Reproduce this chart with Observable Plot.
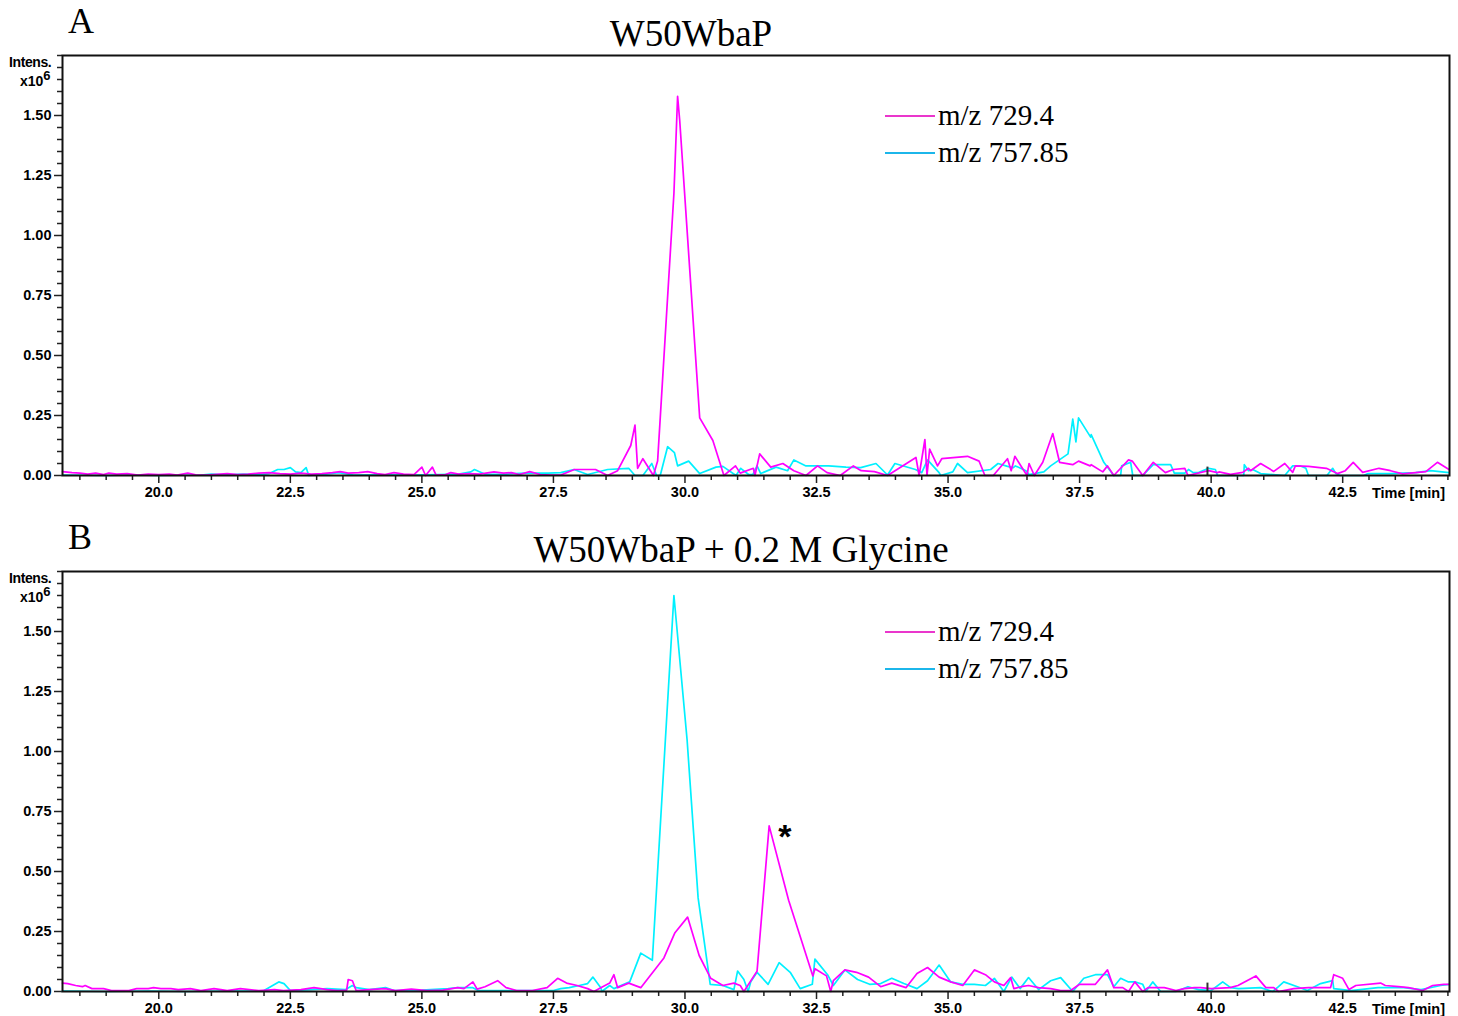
<!DOCTYPE html>
<html>
<head>
<meta charset="utf-8">
<script src="https://cdn.jsdelivr.net/npm/d3@7"></script>
<script src="https://cdn.jsdelivr.net/npm/@observablehq/plot@0.6"></script>
<style>
  body { margin: 0; background: #fff; }
  #fig { position: relative; width: 1458px; height: 1016px; overflow: hidden; background: #fff; }
  .panel { position: absolute; left: 0; width: 1458px; }
  .serif { position: absolute; font-family: "Liberation Serif", "Times New Roman", serif; color: #000; white-space: nowrap; line-height: 1; }
  .sans { position: absolute; font-family: "Liberation Sans", Arial, sans-serif; font-weight: bold; color: #000; white-space: nowrap; line-height: 1; }
  .legline { position: absolute; height: 0; border-top: 2px solid; width: 50px; }
  svg text { font-weight: bold; }
</style>
</head>
<body>
<div id="fig"></div>
<script>
// ---------- data (time [min], intensity x10^6) ----------
const panelTitles = ["W50WbaP", "W50WbaP + 0.2 M Glycine"];
const panelLetters = ["A", "B"];
const seriesNames = ["m/z 729.4", "m/z 757.85"];
const xLabel = "Time [min]";

const a729 = [
 [18.17,0.016],[18.35,0.012],[18.5,0.01],[18.65,0.006],[18.8,0.01],[18.95,0.004],[19.05,0.01],[19.2,0.006],
 [19.4,0.008],[19.6,0.002],[19.8,0.006],[20.0,0.004],[20.2,0.006],[20.35,0.002],[20.55,0.01],[20.7,0.003],
 [20.9,0.002],[21.1,0.005],[21.3,0.008],[21.5,0.004],[21.7,0.006],[21.9,0.01],[22.1,0.012],[22.3,0.008],
 [22.5,0.006],[22.7,0.01],[22.9,0.006],[23.1,0.008],[23.3,0.012],[23.45,0.016],[23.6,0.01],[23.8,0.012],
 [23.97,0.016],[24.15,0.008],[24.3,0.004],[24.47,0.012],[24.65,0.006],[24.85,0.004],[25.0,0.035],[25.07,0.0],
 [25.2,0.035],[25.27,0.002],[25.45,0.004],[25.55,0.012],[25.7,0.006],[25.9,0.008],[26.1,0.006],[26.37,0.015],
 [26.55,0.01],[26.7,0.012],[26.85,0.004],[27.05,0.016],[27.25,0.004],[27.45,0.002],[27.64,0.002],[27.9,0.025],
 [28.3,0.025],[28.53,0.0],[28.72,0.02],[28.97,0.125],[29.05,0.21],[29.1,0.03],[29.2,0.07],[29.4,0.0],
 [29.48,0.06],[29.79,1.175],[29.86,1.58],[29.9,1.48],[30.28,0.24],[30.53,0.146],[30.74,0.0],[30.96,0.04],
 [31.05,0.01],[31.3,0.03],[31.33,0.0],[31.42,0.09],[31.63,0.035],[31.86,0.05],[32.07,0.02],[32.3,0.0],
 [32.52,0.04],[32.7,0.012],[32.95,0.0],[33.2,0.04],[33.35,0.02],[33.6,0.016],[33.85,0.0],[34.39,0.075],
 [34.45,0.0],[34.56,0.15],[34.6,0.0],[34.65,0.11],[34.8,0.04],[34.88,0.07],[35.37,0.08],[35.59,0.06],
 [35.7,0.0],[35.86,0.0],[36.13,0.07],[36.2,0.02],[36.27,0.08],[36.5,0.0],[36.54,0.05],[36.64,0.0],
 [36.8,0.055],[36.99,0.175],[37.12,0.055],[37.37,0.045],[37.48,0.06],[37.7,0.04],[37.72,0.045],[37.94,0.015],
 [38.03,0.04],[38.15,0.0],[38.43,0.065],[38.5,0.06],[38.7,0.0],[38.9,0.055],[39.13,0.012],[39.28,0.025],
 [39.5,0.03],[39.56,0.0],[39.95,0.02],[40.12,0.012],[40.15,0.015],[40.37,0.005],[40.6,0.013],[40.71,0.03],
 [40.75,0.02],[40.94,0.05],[41.19,0.017],[41.4,0.05],[41.55,0.013],[41.6,0.04],[41.85,0.038],[42.19,0.03],
 [42.4,0.008],[42.55,0.02],[42.7,0.055],[42.88,0.013],[43.19,0.03],[43.41,0.02],[43.64,0.007],[44.08,0.016],
 [44.3,0.055],[44.52,0.025]
];

const a757 = [
 [18.17,0.002],[19.0,0.0],[19.5,0.002],[20.0,0.0],[20.8,0.002],[21.0,0.006],[21.3,0.003],[21.6,0.006],
 [21.9,0.004],[22.1,0.008],[22.26,0.025],[22.38,0.025],[22.5,0.033],[22.6,0.015],[22.7,0.012],[22.8,0.033],
 [22.85,0.0],[23.1,0.004],[23.42,0.012],[23.7,0.002],[24.2,0.003],[24.8,0.002],[25.3,0.004],[25.7,0.006],
 [25.93,0.015],[26.0,0.025],[26.2,0.005],[26.6,0.006],[27.0,0.01],[27.4,0.01],[27.64,0.012],[27.89,0.025],
 [28.15,0.004],[28.53,0.025],[28.93,0.03],[29.05,0.0],[29.2,0.0],[29.37,0.05],[29.46,0.0],[29.53,0.0],
 [29.67,0.12],[29.8,0.095],[29.86,0.04],[30.07,0.06],[30.28,0.008],[30.59,0.035],[30.72,0.038],[30.97,0.0],
 [31.06,0.03],[31.21,0.004],[31.29,0.004],[31.37,0.04],[31.44,0.008],[31.73,0.035],[31.95,0.02],[32.07,0.065],
 [32.3,0.04],[32.73,0.04],[33.06,0.035],[33.34,0.033],[33.63,0.05],[33.85,0.002],[33.99,0.05],[34.38,0.025],
 [34.5,0.012],[34.61,0.065],[34.83,0.012],[34.86,0.0],[35.09,0.015],[35.18,0.05],[35.37,0.012],[35.81,0.025],
 [35.95,0.05],[36.13,0.038],[36.24,0.033],[36.28,0.04],[36.48,0.02],[36.54,0.004],[36.82,0.015],[36.95,0.04],
 [37.28,0.09],[37.37,0.235],[37.43,0.14],[37.48,0.24],[37.71,0.16],[37.72,0.17],[37.96,0.055],[38.15,0.0],
 [38.28,0.0],[38.3,0.04],[38.47,0.055],[38.51,0.0],[38.7,0.0],[38.9,0.045],[39.23,0.045],[39.3,0.01],
 [39.5,0.01],[39.57,0.025],[39.66,0.012],[39.76,0.012],[39.95,0.03],[40.08,0.025],[40.12,0.0],[40.62,0.0],
 [40.63,0.045],[40.71,0.02],[40.79,0.025],[40.94,0.008],[41.4,0.0],[41.55,0.04],[41.7,0.04],[41.8,0.03],
 [41.85,0.0],[42.2,0.0],[42.31,0.03],[42.37,0.008],[42.45,0.0],[42.9,0.0],[42.98,0.008],[43.41,0.008],
 [43.89,0.012],[44.17,0.02],[44.52,0.012]
];

const b729 = [
 [18.17,0.035],[18.27,0.033],[18.42,0.025],[18.55,0.02],[18.6,0.025],[18.73,0.012],[18.95,0.012],[19.1,0.004],
 [19.43,0.004],[19.58,0.012],[19.8,0.012],[19.9,0.016],[20.04,0.012],[20.23,0.012],[20.37,0.008],[20.6,0.012],
 [20.8,0.004],[21.05,0.012],[21.18,0.008],[21.3,0.004],[21.55,0.012],[21.9,0.004],[22.2,0.008],[22.37,0.004],
 [22.7,0.008],[22.95,0.016],[23.2,0.008],[23.4,0.004],[23.57,0.006],[23.6,0.05],[23.68,0.045],[23.75,0.004],
 [24.0,0.008],[24.3,0.012],[24.5,0.004],[24.8,0.01],[25.1,0.004],[25.4,0.006],[25.68,0.016],[25.8,0.012],
 [25.97,0.04],[26.05,0.01],[26.2,0.02],[26.44,0.045],[26.6,0.016],[26.8,0.004],[27.1,0.004],[27.38,0.016],
 [27.58,0.055],[27.75,0.035],[27.95,0.025],[28.15,0.012],[28.27,0.0],[28.4,0.016],[28.57,0.035],[28.65,0.07],
 [28.72,0.016],[28.93,0.035],[29.16,0.016],[29.6,0.14],[29.81,0.245],[30.05,0.31],[30.27,0.15],[30.49,0.055],
 [30.72,0.025],[30.93,0.035],[31.05,0.025],[31.12,0.0],[31.37,0.085],[31.6,0.69],[31.97,0.38],[32.43,0.065],
 [32.47,0.095],[32.69,0.065],[32.77,0.0],[32.82,0.045],[33.04,0.09],[33.26,0.08],[33.49,0.06],[33.72,0.02],
 [33.93,0.035],[34.2,0.016],[34.41,0.075],[34.61,0.1],[34.83,0.06],[35.05,0.04],[35.28,0.025],[35.5,0.09],
 [35.71,0.07],[35.88,0.04],[36.06,0.025],[36.19,0.058],[36.25,0.012],[36.39,0.02],[36.53,0.025],[36.72,0.016],
 [36.95,0.012],[37.14,0.004],[37.33,0.004],[37.5,0.03],[37.8,0.03],[38.03,0.09],[38.15,0.016],[38.32,0.016],
 [38.43,0.0],[38.55,0.04],[38.7,0.0],[38.8,0.016],[38.92,0.016],[39.11,0.016],[39.33,0.004],[39.49,0.012],
 [39.68,0.016],[39.8,0.016],[40.0,0.012],[40.36,0.016],[40.51,0.025],[40.85,0.065],[41.04,0.016],[41.19,0.016],
 [41.28,0.0],[41.38,0.004],[41.57,0.012],[41.85,0.016],[42.27,0.016],[42.33,0.07],[42.5,0.055],[42.62,0.008],
 [42.75,0.025],[43.22,0.035],[43.31,0.025],[43.56,0.02],[43.75,0.016],[44.02,0.004],[44.21,0.025],[44.42,0.03],
 [44.52,0.03]
];

const b757 = [
 [18.17,0.002],[19.0,0.0],[19.8,0.002],[20.5,0.0],[21.3,0.002],[21.8,0.002],[22.0,0.004],[22.28,0.04],
 [22.38,0.033],[22.5,0.004],[22.9,0.008],[23.2,0.012],[23.55,0.008],[23.68,0.025],[23.75,0.016],[24.0,0.008],
 [24.31,0.016],[24.47,0.004],[25.0,0.006],[25.5,0.012],[25.68,0.016],[25.97,0.016],[26.07,0.004],[26.5,0.004],
 [27.0,0.004],[27.5,0.004],[27.64,0.012],[27.8,0.016],[27.99,0.025],[28.15,0.033],[28.25,0.06],[28.4,0.016],
 [28.42,0.0],[28.57,0.025],[28.65,0.012],[28.95,0.04],[29.16,0.16],[29.38,0.13],[29.79,1.65],[30.04,1.05],
 [30.25,0.39],[30.48,0.03],[30.72,0.025],[30.93,0.008],[31.0,0.085],[31.12,0.05],[31.2,0.0],[31.25,0.04],
 [31.37,0.08],[31.58,0.03],[31.79,0.12],[32.0,0.08],[32.19,0.012],[32.42,0.03],[32.47,0.135],[32.71,0.07],
 [32.82,0.025],[33.04,0.09],[33.28,0.05],[33.51,0.03],[33.72,0.033],[33.93,0.055],[34.16,0.033],[34.41,0.012],
 [34.61,0.045],[34.83,0.11],[35.05,0.04],[35.28,0.03],[35.5,0.03],[35.71,0.025],[35.88,0.055],[36.06,0.0],
 [36.21,0.06],[36.37,0.012],[36.53,0.058],[36.72,0.008],[36.95,0.045],[37.14,0.058],[37.37,0.0],[37.58,0.055],
 [37.8,0.07],[38.03,0.07],[38.15,0.02],[38.28,0.055],[38.43,0.04],[38.55,0.04],[38.7,0.03],[38.76,0.0],
 [38.89,0.04],[39.04,0.0],[39.33,0.0],[39.56,0.02],[39.76,0.008],[40.0,0.004],[40.22,0.04],[40.37,0.016],
 [40.52,0.012],[40.94,0.016],[41.17,0.0],[41.28,0.02],[41.38,0.04],[41.64,0.02],[41.83,0.004],[42.08,0.033],
 [42.31,0.045],[42.33,0.012],[42.66,0.004],[43.17,0.016],[43.66,0.016],[43.99,0.008],[44.36,0.025],[44.52,0.03]
];

const starNote = [{time: 31.9, intensity: 0.645, text: "*"}];
const breakMark = [39.93];

const xMajorTicks = [20.0, 22.5, 25.0, 27.5, 30.0, 32.5, 35.0, 37.5, 40.0, 42.5];
const yMajorTicks = [0.00, 0.25, 0.50, 0.75, 1.00, 1.25, 1.50];
const xDomain = [18.17, 44.53];
const yDomain = [0, 1.75];

// ---------- drawing ----------
const MAGENTA = "#ff00ff";
const CYAN = "#00f0ff";
const xMinorTicks = d3.range(18.5, 44.51, 0.5).filter(t => !xMajorTicks.some(m => Math.abs(m - t) < 1e-6));
const yMinorTicks = d3.range(0.05, 1.751, 0.05).filter(v => !yMajorTicks.some(m => Math.abs(m - v) < 1e-6));

function makePanel(m729, m757, height, marginBottom, notes) {
  return Plot.plot({
    width: 1458, height,
    marginTop: 55, marginBottom, marginLeft: 62, marginRight: 9,
    style: {fontFamily: "'Liberation Sans', Arial, sans-serif", fontSize: "14.5px", color: "#000", background: "#fff", overflow: "visible"},
    x: {domain: xDomain},
    y: {domain: yDomain},
    marks: [
      Plot.axisX(xMinorTicks, {tickSize: 5, tickFormat: () => "", label: null, strokeWidth: 1.5, stroke: "#222"}),
      Plot.axisX(xMajorTicks, {tickSize: 8, tickPadding: 3, tickFormat: d => d.toFixed(1), label: null, strokeWidth: 1.5, stroke: "#222"}),
      Plot.axisY(yMinorTicks, {tickSize: 5, tickFormat: () => "", label: null, strokeWidth: 1.5, stroke: "#222"}),
      Plot.axisY(yMajorTicks, {tickSize: 8, tickPadding: 3, tickFormat: d => d.toFixed(2), label: null, strokeWidth: 1.5, stroke: "#222"}),
      Plot.line(m757, {x: d => d[0], y: d => d[1], stroke: CYAN, strokeWidth: 1.7}),
      Plot.line(m729, {x: d => d[0], y: d => d[1], stroke: MAGENTA, strokeWidth: 1.7}),
      Plot.ruleX(breakMark, {x: d => d, y1: 0, y2: 0.035, stroke: "#333", strokeWidth: 2}),
      notes ? Plot.text(notes, {x: "time", y: "intensity", text: "text", fontSize: 34, fontWeight: "bold", fill: "#000"}) : null,
      Plot.frame({stroke: "#111", strokeWidth: 2})
    ]
  });
}

const fig = document.getElementById("fig");
const panels = [
  {top: 0, h: 516, mb: 41, data: [a729, a757], notes: null},
  {top: 516, h: 500, mb: 25, data: [b729, b757], notes: starNote}
];
const titleCenters = [691, 741];

panels.forEach((p, i) => {
  const wrap = document.createElement("div");
  wrap.className = "panel";
  wrap.style.top = p.top + "px";
  wrap.appendChild(makePanel(p.data[0], p.data[1], p.h, p.mb, p.notes));
  fig.appendChild(wrap);

  const letter = document.createElement("div");
  letter.className = "serif";
  letter.style.fontSize = "36px";
  letter.style.left = "68px";
  letter.style.top = (p.top + 3) + "px";
  letter.textContent = panelLetters[i];
  fig.appendChild(letter);

  const title = document.createElement("div");
  title.className = "serif";
  title.style.fontSize = "37px";
  title.style.left = titleCenters[i] + "px";
  title.style.transform = "translateX(-50%)";
  title.style.top = (p.top + 15) + "px";
  title.textContent = panelTitles[i];
  fig.appendChild(title);

  const intens = document.createElement("div");
  intens.className = "sans";
  intens.style.fontSize = "14px";
  intens.style.left = "9px";
  intens.style.top = (p.top + 55) + "px";
  intens.style.letterSpacing = "-0.4px";
  intens.textContent = "Intens.";
  fig.appendChild(intens);

  const mult = document.createElement("div");
  mult.className = "sans";
  mult.style.fontSize = "14px";
  mult.style.left = "20px";
  mult.style.top = (p.top + 74) + "px";
  mult.innerHTML = "x10<sup style='font-size:13px;vertical-align:6px;line-height:0'>6</sup>";
  fig.appendChild(mult);

  const tl = document.createElement("div");
  tl.className = "sans";
  tl.style.fontSize = "14.5px";
  tl.style.right = "13px";
  tl.style.top = (p.top + 486) + "px";
  tl.textContent = xLabel;
  fig.appendChild(tl);

  [[MAGENTA, "#ea36cc"], [CYAN, "#1cb6ea"]].forEach((c, k) => {
    const y = p.top + 116 + k * 37;
    const ln = document.createElement("div");
    ln.className = "legline";
    ln.style.left = "885px";
    ln.style.top = (y - 1) + "px";
    ln.style.borderColor = c[1];
    fig.appendChild(ln);
    const tx = document.createElement("div");
    tx.className = "serif";
    tx.style.fontSize = "29px";
    tx.style.left = "938px";
    tx.style.top = (y - 15) + "px";
    tx.textContent = seriesNames[k];
    fig.appendChild(tx);
  });
});
</script>
</body>
</html>
